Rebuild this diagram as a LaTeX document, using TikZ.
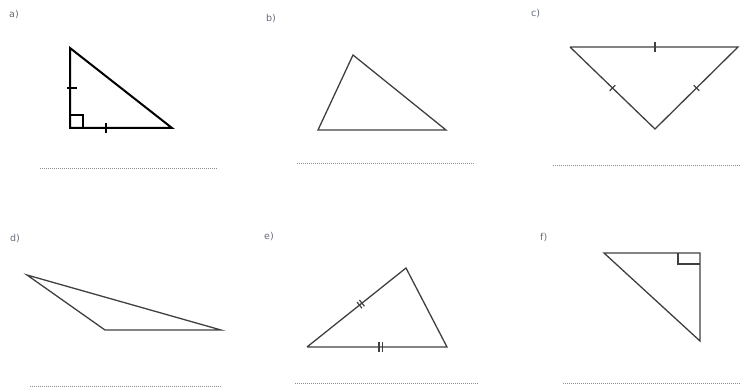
\documentclass[tikz,border=0pt]{standalone}
\usepackage{fontspec}
\setsansfont{DejaVu Sans}
\usetikzlibrary{positioning}
\definecolor{c1}{rgb}{0.25, 0.25, 0.25}
\definecolor{c2}{rgb}{0.55, 0.55, 0.55}
\definecolor{c3}{rgb}{0.40, 0.42, 0.48}
\tikzstyle{vertex}=[coordinate]
\tikzset{
  part/.style = {font=\fontsize{9.5}{11}\sffamily, text=c3, inner sep=0pt, anchor=west},
  edge/.style = {c1, line width=1.3pt, line join=miter},
  edgeb/.style = {black, line width=2pt, line join=miter},
  answer/.style = {c2, line width=0.8pt, dash pattern=on 1pt off 1pt},
  tick/.style = {sloped, shape=rectangle, fill=c1, inner sep=0pt, minimum width=1.6pt, minimum height=10pt},
  ticks/.style = {sloped, shape=rectangle, fill=c1, inner sep=0pt, minimum width=1.2pt, minimum height=8pt},
  square/.style = {c1, line width=1.2pt},
}

\begin{document}
\begin{tikzpicture}[x=1pt, y=-1pt]
    \useasboundingbox (0,0) rectangle (740,390);

    % a)
    \node[part] (la) at (9,15) {a)};
    \node[vertex] (a1) at (70,48){};
    \node[vertex] (a2) at (70,128){};
    \node[vertex] (a3) at (172,128){};
    \draw[edgeb] (a1) -- node[tick, pos=0.5, fill=black, yshift=2pt] {} (a2) -- node[tick, pos=0.35, fill=black] {} (a3) -- cycle;
    \draw[black, line width=1.2pt] (70,115) -- (83,115) -- (83,128);
    \node[vertex] (da1) at (40,168){};
    \node[vertex] (da2) at (217,168){};
    \draw[answer] (da1) -- (da2);

    % b)
    \node[part] (lb) at (266,19) {b)};
    \node[vertex] (b1) at (353,55){};
    \node[vertex] (b2) at (318,130){};
    \node[vertex] (b3) at (446,130){};
    \draw[edge] (b1) -- (b2) -- (b3) -- cycle;
    \node[vertex] (db1) at (297,163){};
    \node[vertex] (db2) at (475,163){};
    \draw[answer] (db1) -- (db2);

    % c)
    \node[part] (lc) at (531,14) {c)};
    \node[vertex] (c1) at (570,47){};
    \node[vertex] (c2) at (738,47){};
    \node[vertex] (c3) at (655,129){};
    \draw[edge] (c1) -- node[tick, pos=0.505] {} (c2) -- node[ticks, pos=0.5] {} (c3) -- node[ticks, pos=0.5] {} (c1);
    \node[vertex] (dc1) at (553,165){};
    \node[vertex] (dc2) at (740,165){};
    \draw[answer] (dc1) -- (dc2);

    % d)
    \node[part] (ld) at (10,239) {d)};
    \node[vertex] (d1) at (27,275){};
    \node[vertex] (d2) at (105,330){};
    \node[vertex] (d3) at (221,330){};
    \draw[edge] (d1) -- (d2) -- (d3) -- cycle;
    \node[vertex] (dd1) at (30,386){};
    \node[vertex] (dd2) at (222,386){};
    \draw[answer] (dd1) -- (dd2);

    % e)
    \node[part] (le) at (264,237) {e)};
    \node[vertex] (e1) at (307,347){};
    \node[vertex] (e2) at (406,268){};
    \node[vertex] (e3) at (447,347){};
    \draw[edge] (e1) -- node[ticks, pos=0.53] {} node[ticks, pos=0.555] {}
      (e2) -- (e3) -- node[tick, pos=0.46] {} node[tick, pos=0.485] {} (e1);
    \node[vertex] (de1) at (295,383){};
    \node[vertex] (de2) at (478,383){};
    \draw[answer] (de1) -- (de2);

    % f)
    \node[part] (lf) at (540,238) {f)};
    \node[vertex] (f1) at (604,253){};
    \node[vertex] (f2) at (700,253){};
    \node[vertex] (f3) at (700,341){};
    \draw[edge] (f1) -- (f2) -- (f3) -- cycle;
    \draw[square] (678,253) -- (678,264) -- (700,264);
    \node[vertex] (df1) at (563,383){};
    \node[vertex] (df2) at (740,383){};
    \draw[answer] (df1) -- (df2);

  \end{tikzpicture}
\end{document}
